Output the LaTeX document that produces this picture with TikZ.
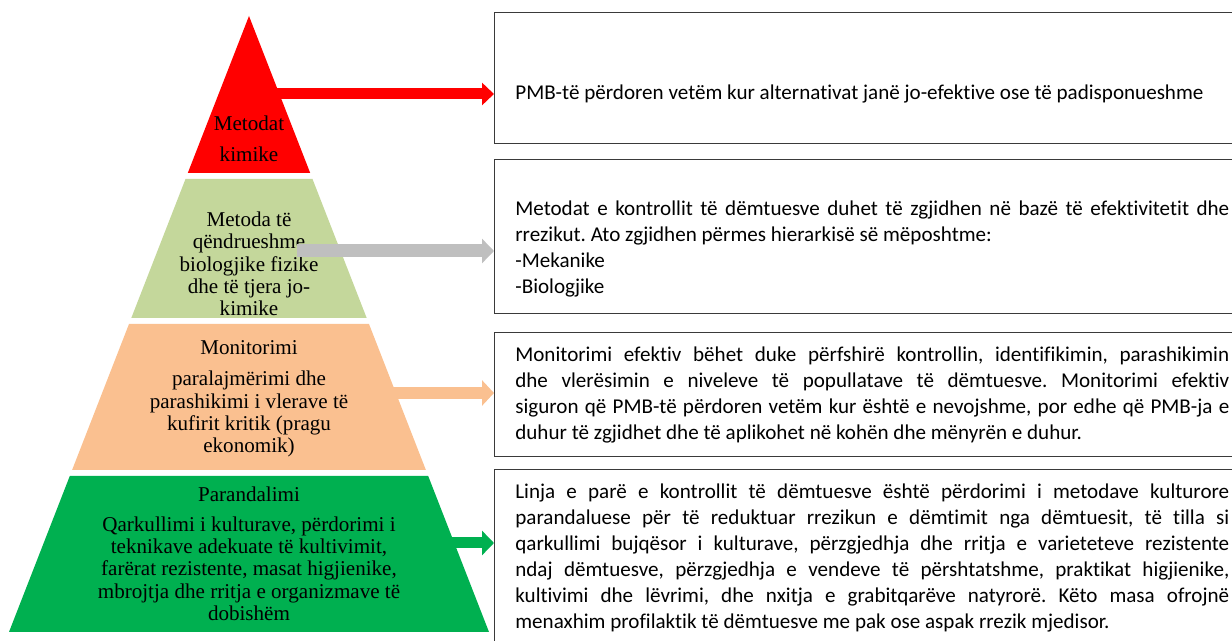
\documentclass[tikz,border=0pt]{standalone}
\usepackage{fontspec}
\setmainfont{Liberation Serif}
\newfontfamily\calfont[Ligatures=NoCommon]{Carlito}
\usepackage{xcolor}
\usepackage{tikz}
\usetikzlibrary{calc,arrows.meta}
\definecolor{topred}{HTML}{FF0000}
\definecolor{midgreen}{HTML}{C4D79B}
\definecolor{peach}{HTML}{FAC090}
\definecolor{basegreen}{HTML}{00B050}
\definecolor{arrowgray}{HTML}{BFBFBF}
\definecolor{frame}{HTML}{3A3A3A}
\newcommand\tightpar{\hyphenpenalty=10000\relax\exhyphenpenalty=10000\relax\tolerance=9999\relax\frenchspacing}
\tikzset{
  lvl/.style={font=\fontsize{12pt}{12.7pt}\selectfont, align=center, inner sep=0pt, text=black},
  box/.style={draw=frame, line width=0.8pt, anchor=north west, inner sep=0pt, minimum width=14.92cm},
  txt/.style={font=\calfont\fontsize{12pt}{14.7pt}\selectfont, execute at begin node=\tightpar,
    text width=14.28cm, align=justify, anchor=north west, inner sep=0pt},
  arr/.style n args={3}{draw=#1, line width=#2, -{Triangle[length=0.24cm,width=#3]}},
}
\begin{document}
\begin{tikzpicture}[x=0.02cm, y=-0.02cm]
  \useasboundingbox (0,0) rectangle (1232,641);
  \fill[topred] (249,16) -- (310.2,173) -- (187.8,173) -- cycle;
  \fill[midgreen] (185.5,179) -- (312.5,179) -- (366.7,318) -- (131.3,318) -- cycle;
  \fill[peach] (129,324) -- (369,324) -- (425.9,470) -- (72.1,470) -- cycle;
  \fill[basegreen] (69.8,476) -- (428.2,476) -- (489,632) -- (9,632) -- cycle;
  \node[lvl] (l1) at (249,139) {Metodat\\[5pt]kimike};
  \node[lvl] (l2) at (249,264) {Metoda të\\qëndrueshme\\biologjike fizike\\dhe të tjera jo-\\kimike};
  \node[lvl] (l3) at (249,399) {Monitorimi\\[5pt]paralajmërimi dhe\\parashikimi i vlerave të\\kufirit kritik (pragu\\ekonomik)};
  \node[lvl] (l4) at (249,554) {Parandalimi\\[4pt]Qarkullimi i kulturave, përdorimi i\\teknikave adekuate të kultivimit,\\farërat rezistente, masat higjienike,\\mbrojtja dhe rritja e organizmave të\\dobishëm};
  \node[box, minimum height=2.62cm] (b1) at (494,12) {};
  \node[box, minimum height=3.08cm] (b2) at (494,159) {};
  \node[box, minimum height=2.48cm] (b3) at (494,332) {};
  \node[box, minimum height=3.82cm] (b4) at (494,469) {};
  \node[txt] (t1) at (515,85) {PMB-të përdoren vetëm kur alternativat janë jo-efektive ose të padisponueshme};
  \node[txt] (t2) at (515,201) {Metodat e kontrollit të dëmtuesve duhet të zgjidhen në bazë të efektivitetit dhe\linebreak rrezikut. Ato zgjidhen përmes hierarkisë së mëposhtme:\newline -Mekanike\newline -Biologjike};
  \node[txt] (t3) at (515,347) {Monitorimi efektiv bëhet duke përfshirë kontrollin, identifikimin, parashikimin\linebreak dhe vlerësimin e niveleve të popullatave të dëmtuesve. Monitorimi efektiv\linebreak siguron që PMB-të përdoren vetëm kur është e nevojshme, por edhe që PMB-ja e\linebreak duhur të zgjidhet dhe të aplikohet në kohën dhe mënyrën e duhur.};
  \node[txt] (t4) at (515,484) {Linja e parë e kontrollit të dëmtuesve është përdorimi i metodave kulturore\linebreak parandaluese për të reduktuar rrezikun e dëmtimit nga dëmtuesit, të tilla si\linebreak qarkullimi bujqësor i kulturave, përzgjedhja dhe rritja e varieteteve rezistente\linebreak ndaj dëmtuesve, përzgjedhja e vendeve të përshtatshme, praktikat higjienike,\linebreak kultivimi dhe lëvrimi, dhe nxitja e grabitqarëve natyrorë. Këto masa ofrojnë\linebreak menaxhim profilaktik të dëmtuesve me pak ose aspak rrezik mjedisor.};
  \coordinate (s1) at (270,94);
  \coordinate (s2) at (297,251);
  \coordinate (s3) at (385,393);
  \coordinate (s4) at (445,543);
  \draw[arr={topred}{0.22cm}{0.44cm}] (s1) -- (s1 -| b1.west);
  \draw[arr={arrowgray}{0.26cm}{0.48cm}] (s2) -- (s2 -| b2.west);
  \draw[arr={peach}{0.24cm}{0.50cm}] (s3) -- (s3 -| b3.west);
  \draw[arr={basegreen}{0.22cm}{0.48cm}] (s4) -- (s4 -| b4.west);
\end{tikzpicture}
\end{document}
